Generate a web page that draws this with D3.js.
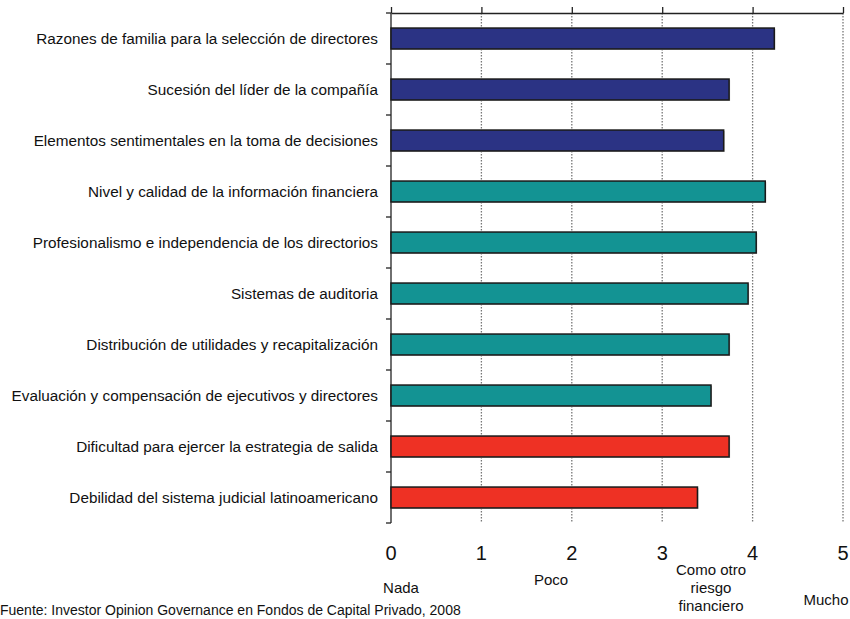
<!DOCTYPE html>
<html><head><meta charset="utf-8">
<script src="https://cdn.jsdelivr.net/npm/d3@7"></script>
<style>body{margin:0;background:#fff;}svg{display:block;font-family:"Liberation Sans",Arial,sans-serif;}</style>
</head><body>
<svg id="c" width="850" height="619"></svg>
<script>
const categories = [
  "Razones de familia para la selección de directores",
  "Sucesión del líder de la compañía",
  "Elementos sentimentales en la toma de decisiones",
  "Nivel y calidad de la información financiera",
  "Profesionalismo e independencia de los directorios",
  "Sistemas de auditoria ",
  "Distribución de utilidades y recapitalización",
  "Evaluación y compensación de ejecutivos y directores",
  "Dificultad para ejercer la estrategia de salida",
  "Debilidad del sistema judicial latinoamericano"
];
const values = [4.24, 3.74, 3.68, 4.14, 4.04, 3.95, 3.74, 3.54, 3.74, 3.39];
const groups = ["familia","familia","familia","gobierno","gobierno","gobierno","gobierno","gobierno","entorno","entorno"];
const groupColors = {familia:"#2B3384", gobierno:"#139393", entorno:"#EE3124"};
const tickValues = [0,1,2,3,4,5];
const scaleLabels = [
  {x:401, lines:["Nada"], y0:593},
  {x:551, lines:["Poco"], y0:585},
  {x:711, lines:["Como otro","riesgo","financiero"], y0:575},
  {x:826, lines:["Mucho"], y0:605}
];
const source = "Fuente: Investor Opinion Governance en Fondos de Capital Privado, 2008";

(function(){
const svg = d3.select("#c");
const L = 391, R = 843, T = 13, B = 523;
const x = d3.scaleLinear().domain([0,5]).range([L,R]);
const y = d3.scaleBand().domain(categories).range([T,B]).paddingInner(0.59).paddingOuter(0.295);
const yEdges = d3.scaleLinear().domain([0,categories.length]).range([T,B]);

// gridlines
svg.append("g").selectAll("line").data(tickValues.slice(1)).join("line")
  .attr("x1",d=>x(d)).attr("x2",d=>x(d)).attr("y1",T).attr("y2",B)
  .attr("stroke","#777").attr("stroke-width",1.3).attr("stroke-dasharray","1.5,1.5");

// top axis
const topAxis = d3.axisTop(x).tickValues(tickValues).tickSize(6).tickFormat("").tickSizeOuter(0);
const ta = svg.append("g").attr("transform",`translate(0,${T})`).call(topAxis);
ta.select(".domain").attr("stroke","#222").attr("stroke-width",1.3);
ta.selectAll(".tick line").attr("stroke","#222").attr("stroke-width",1.3);

// left axis line with ticks at category boundaries
svg.append("line").attr("x1",L).attr("x2",L).attr("y1",T).attr("y2",B)
  .attr("stroke","#222").attr("stroke-width",1.3);
svg.append("g").selectAll("line").data(d3.range(0,categories.length+1)).join("line")
  .attr("x1",L-5).attr("x2",L).attr("y1",d=>yEdges(d)).attr("y2",d=>yEdges(d))
  .attr("stroke","#222").attr("stroke-width",1.3);

// bars (shadow + bar)
svg.append("g").selectAll("rect").data(values).join("rect")
  .attr("x",x(0)+1).attr("y",(d,i)=>y(categories[i])+1)
  .attr("width",d=>x(d)-x(0)).attr("height",y.bandwidth())
  .attr("fill","#bbb");
svg.append("g").selectAll("rect").data(values).join("rect")
  .attr("x",x(0)).attr("y",(d,i)=>y(categories[i]))
  .attr("width",d=>x(d)-x(0)).attr("height",y.bandwidth())
  .attr("fill",(d,i)=>groupColors[groups[i]])
  .attr("stroke","#1a1a1a").attr("stroke-width",1.5);

// category labels
svg.append("g").selectAll("text").data(categories).join("text")
  .attr("x",378).attr("y",d=>y(d)+y.bandwidth()/2).attr("dy","0.35em")
  .attr("text-anchor","end").attr("font-size",15.3).attr("fill","#111")
  .text(d=>d);

// bottom tick numbers
svg.append("g").selectAll("text").data(tickValues).join("text")
  .attr("x",d=>x(d)).attr("y",560).attr("text-anchor","middle")
  .attr("font-size",20).attr("fill","#111").text(d=>d);

// scale word labels
svg.append("g").selectAll("text").data(scaleLabels).join("text")
  .attr("text-anchor","middle").attr("font-size",15).attr("fill","#111")
  .each(function(d){
    const t = d3.select(this);
    d.lines.forEach((ln,k)=>t.append("tspan").attr("x",d.x).attr("y",d.y0+k*18).text(ln));
  });

// source
svg.append("text").attr("x",0).attr("y",615).attr("font-size",14).attr("fill","#111").text(source);
})();
</script>
</body></html>
